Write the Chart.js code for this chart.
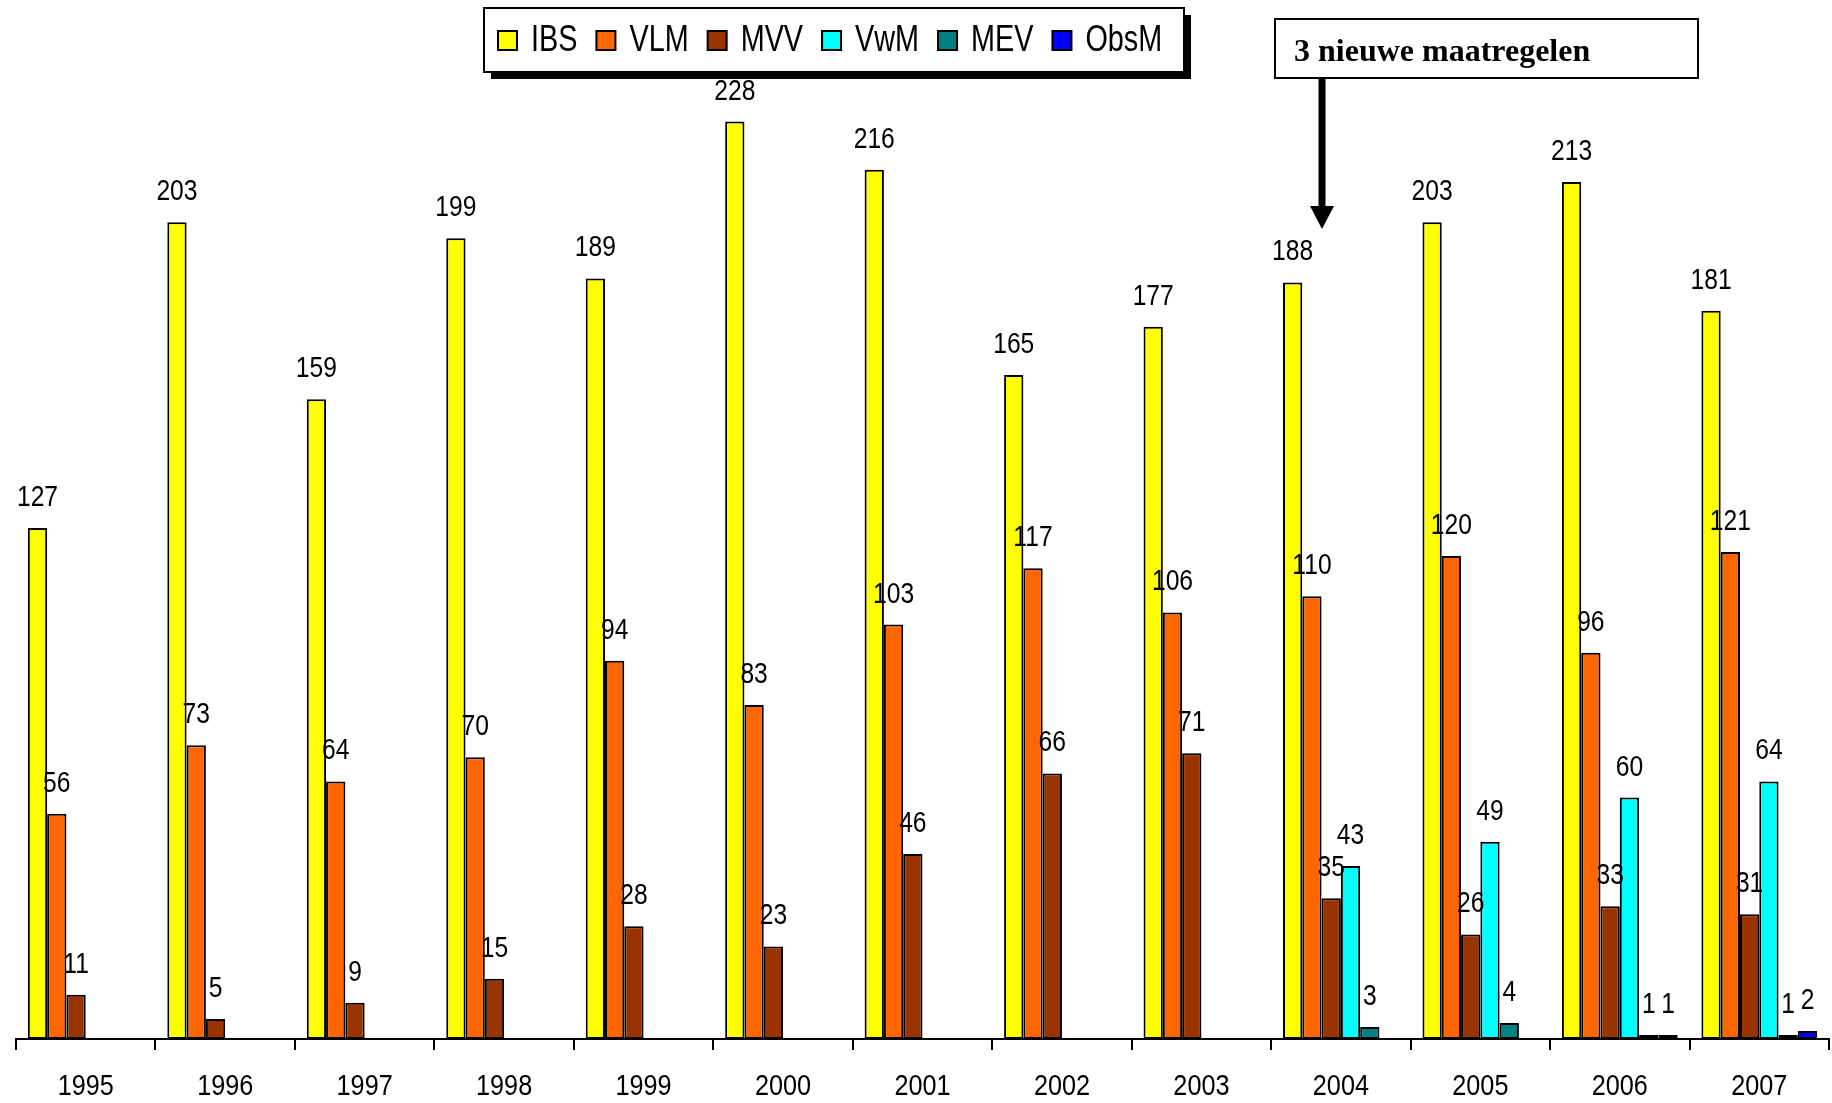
<!DOCTYPE html>
<html>
<head>
<meta charset="utf-8">
<script src="https://cdn.jsdelivr.net/npm/chart.js@4.4.1/dist/chart.umd.min.js"></script>
<style>
  html, body { margin: 0; padding: 0; background: #fff; }
  canvas { display: block; }
</style>
</head>
<body>
<canvas id="chart" width="1832" height="1103"></canvas>
<script>
const years = ["1995", "1996", "1997", "1998", "1999", "2000", "2001", "2002", "2003", "2004", "2005", "2006", "2007"]
const ibs = [127, 203, 159, 199, 189, 228, 216, 165, 177, 188, 203, 213, 181]
const vlm = [56, 73, 64, 70, 94, 83, 103, 117, 106, 110, 120, 96, 121]
const mvv = [11, 5, 9, 15, 28, 23, 46, 66, 71, 35, 26, 33, 31]
const vwm = [null, null, null, null, null, null, null, null, null, 43, 49, 60, 64]
const mev = [null, null, null, null, null, null, null, null, null, 3, 4, 1, 1]
const obsm = [null, null, null, null, null, null, null, null, null, null, null, 1, 2]
const noteText = "3 nieuwe maatregelen"
const noteYear = "2004"

const FONT = '"Liberation Sans", Arial, sans-serif'

// the original text is a condensed sans, so squeeze it sideways
function narrowText(ctx, text, x, y, align, squeeze) {
  ctx.save()
  ctx.translate(x, y)
  ctx.scale(squeeze, 1)
  ctx.textAlign = align
  ctx.fillText(text, 0, 0)
  ctx.restore()
}

// numbers above the bars and year labels under the axis
const valueLabels = {
  id: "valueLabels",
  afterDatasetsDraw(chart) {
    const ctx = chart.ctx
    ctx.save()
    ctx.font = "29px " + FONT
    ctx.fillStyle = "#000"
    ctx.textBaseline = "alphabetic"
    chart.data.datasets.forEach((ds, i) => {
      chart.getDatasetMeta(i).data.forEach((bar, j) => {
        const v = ds.data[j]
        if (v == null) return
        narrowText(ctx, String(v), bar.x, bar.y - 22, "center", 0.85)
      })
    })
    const xs = chart.scales.x
    years.forEach((y, i) => {
      narrowText(ctx, y, xs.getPixelForValue(i), xs.bottom + 45, "center", 0.87)
    })
    ctx.restore()
  },
}

// boxed legend with drop shadow + note with arrow
const overlay = {
  id: "overlay",
  afterDraw(chart) {
    const ctx = chart.ctx
    ctx.save()

    // legend
    const bx = 484, by = 8, bw = 700, bh = 64
    ctx.fillStyle = "#000"
    ctx.fillRect(bx + 7, by + 7, bw, bh)
    ctx.fillStyle = "#fff"
    ctx.fillRect(bx, by, bw, bh)
    ctx.lineWidth = 2
    ctx.strokeStyle = "#000"
    ctx.strokeRect(bx, by, bw, bh)

    ctx.font = "36px " + FONT
    ctx.textBaseline = "middle"
    let x = bx + 14
    const cy = by + bh / 2
    chart.data.datasets.forEach((ds) => {
      ctx.fillStyle = ds.backgroundColor
      ctx.fillRect(x, cy - 9, 19, 19)
      ctx.strokeRect(x, cy - 9, 19, 19)
      ctx.fillStyle = "#000"
      narrowText(ctx, ds.label, x + 33, cy + 1, "left", 0.8)
      x += 33 + ctx.measureText(ds.label).width * 0.8 + 19
    })

    // note box
    const nx = 1275, ny = 19, nw = 423, nh = 59
    ctx.fillStyle = "#fff"
    ctx.fillRect(nx, ny, nw, nh)
    ctx.strokeRect(nx, ny, nw, nh)
    ctx.fillStyle = "#000"
    ctx.font = "bold 32px 'Liberation Serif', 'Times New Roman', serif"
    ctx.textBaseline = "alphabetic"
    ctx.textAlign = "left"
    ctx.fillText(noteText, nx + 19, ny + 42)

    // arrow down to the year
    const xs = chart.scales.x
    const idx = years.indexOf(noteYear)
    const ax = Math.round(xs.getPixelForValue(idx) - 19)
    const tip = 229
    ctx.fillRect(ax - 3.5, ny + nh, 7, tip - 22 - (ny + nh))
    ctx.beginPath()
    ctx.moveTo(ax - 12, tip - 23)
    ctx.lineTo(ax + 12, tip - 23)
    ctx.lineTo(ax, tip)
    ctx.closePath()
    ctx.fill()

    ctx.restore()
  },
}

const barStyle = { borderColor: "#000", borderWidth: 2, borderSkipped: false }

new Chart(document.getElementById("chart"), {
  type: "bar",
  data: {
    labels: years,
    datasets: [
      { label: "IBS", data: ibs, backgroundColor: "#ffff00", ...barStyle },
      { label: "VLM", data: vlm, backgroundColor: "#ff6600", ...barStyle },
      { label: "MVV", data: mvv, backgroundColor: "#993300", ...barStyle },
      { label: "VwM", data: vwm, backgroundColor: "#00ffff", ...barStyle },
      { label: "MEV", data: mev, backgroundColor: "#008080", ...barStyle },
      { label: "ObsM", data: obsm, backgroundColor: "#0000ff", ...barStyle },
    ],
  },
  options: {
    responsive: false,
    animation: false,
    layout: { padding: { top: 33, left: 16, right: 3, bottom: 53 } },
    datasets: { bar: { categoryPercentage: 0.83, barPercentage: 1 } },
    plugins: {
      legend: { display: false },
      tooltip: { enabled: false },
    },
    scales: {
      x: {
        border: { color: "#000", width: 2 },
        grid: { drawOnChartArea: false, color: "#000", lineWidth: 2, tickLength: 11 },
        ticks: { display: false },
      },
      y: {
        display: false,
        min: 0,
        max: 250,
      },
    },
  },
  plugins: [valueLabels, overlay],
})
</script>
</body>
</html>
